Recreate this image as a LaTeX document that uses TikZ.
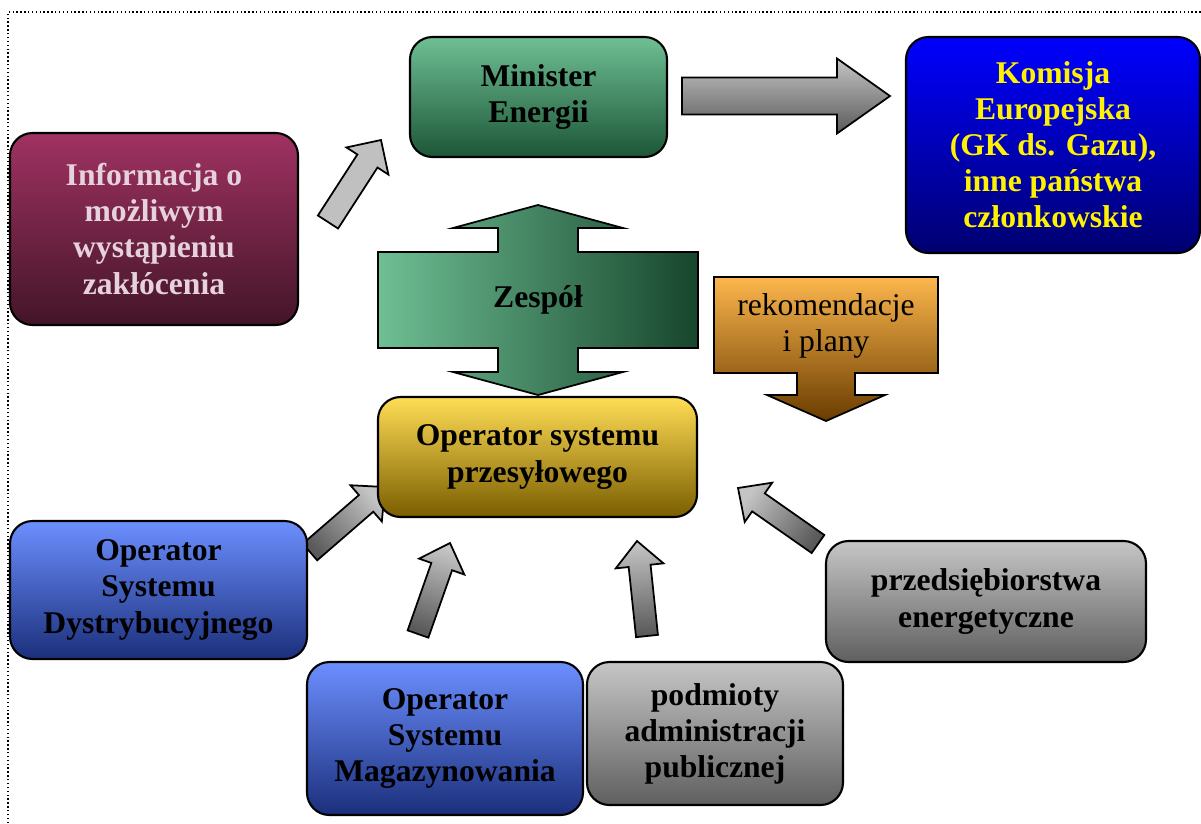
\documentclass[tikz,border=0pt]{standalone}
\usepackage{fontspec}
\setmainfont{Liberation Serif}
\usetikzlibrary{calc}

\definecolor{minlight}{HTML}{6FBF94}
\definecolor{mindark}{HTML}{1C5637}
\definecolor{kelight}{HTML}{0000FF}
\definecolor{kedark}{HTML}{000070}
\definecolor{infolight}{HTML}{A03262}
\definecolor{infodark}{HTML}{431528}
\definecolor{infotext}{HTML}{E6D2DC}
\definecolor{osplight}{HTML}{FFDD55}
\definecolor{ospdark}{HTML}{7A5E00}
\definecolor{oslight}{HTML}{6C8FFF}
\definecolor{osdark}{HTML}{1B2F7B}
\definecolor{greylight}{HTML}{C6C6C6}
\definecolor{greydark}{HTML}{5F5F5F}
\definecolor{zlight}{HTML}{6FBF94}
\definecolor{zmid}{HTML}{4A8C68}
\definecolor{zdark}{HTML}{17462D}
\definecolor{reklight}{HTML}{FCB64C}
\definecolor{rekdark}{HTML}{6A3C00}
\definecolor{arrowlight}{HTML}{C4C4C4}
\definecolor{arrowdark}{HTML}{5A5A5A}
\definecolor{arrowflat}{HTML}{C0C0C0}

\tikzset{
  txt/.style={font=\fontsize{18}{20.5}\selectfont\bfseries, align=center},
  box/.style={txt, draw, line width=1.2pt, rounded corners=0.45cm, inner sep=0pt},
  sz/.style 2 args={minimum width=#1*0.02cm, minimum height=#2*0.02cm},
  grey/.style={top color=greylight, bottom color=greydark},
  blue/.style={top color=oslight, bottom color=osdark},
  fat/.style={draw, line width=1pt, top color=arrowlight, bottom color=arrowdark},
}

% #1 style, #2 tail, #3 tip, #4 half shaft, #5 half head, #6 head length
\newcommand\fatarrow[6][]{%
  \coordinate (hb) at ($(#3)!#6!(#2)$);
  \path[fat,#1] ($(#2)!#4!90:(#3)$) -- ($(hb)!#4!-90:(#2)$) -- ($(hb)!#5!-90:(#2)$)
    -- (#3) -- ($(hb)!#5!90:(#2)$) -- ($(hb)!#4!90:(#2)$) -- ($(#2)!#4!-90:(#3)$) -- cycle;}

\begin{document}
\begin{tikzpicture}[x=0.02cm, y=-0.02cm]
  \useasboundingbox (0,0) rectangle (1201,823);
  \draw[line width=0.8pt, dash pattern=on 0.8pt off 1.4pt] (8,823) -- (8,12) -- (1201,12);

  % arrow ends
  \coordinate (info-out) at (328,222);
  \coordinate (min-in) at (381,140);
  \coordinate (min-out) at (682,96);
  \coordinate (ke-in) at (890,96);
  \coordinate (osd-out) at (310,552);
  \coordinate (osp-in1) at (385,487);
  \coordinate (osm-out) at (418,634);
  \coordinate (osp-in2) at (450,543);
  \coordinate (pod-out) at (647,636);
  \coordinate (osp-in3) at (637,541);
  \coordinate (prz-out) at (818,544);
  \coordinate (osp-in4) at (738,488);

  \fatarrow[top color=arrowflat, bottom color=arrowflat]{info-out}{min-in}{0.24cm}{0.5cm}{0.5cm}
  \fatarrow{min-out}{ke-in}{0.37cm}{0.75cm}{1.06cm}
  \fatarrow[shading angle=-49]{osd-out}{osp-in1}{0.22cm}{0.48cm}{0.5cm}
  \fatarrow[shading angle=-19]{osm-out}{osp-in2}{0.22cm}{0.48cm}{0.5cm}
  \fatarrow[shading angle=6]{pod-out}{osp-in3}{0.22cm}{0.48cm}{0.5cm}
  \fatarrow[shading angle=55]{prz-out}{osp-in4}{0.22cm}{0.48cm}{0.5cm}

  % Zespol
  \path[draw, line width=1pt, left color=zlight, middle color=zmid, right color=zdark]
    (538,205) -- (623,228) -- (578,228) -- (578,252) -- (698,252) -- (698,348)
    -- (578,348) -- (578,372) -- (623,372) -- (538,395) -- (453,372) -- (498,372)
    -- (498,348) -- (378,348) -- (378,252) -- (498,252) -- (498,228) -- (453,228) -- cycle;
  \node[txt] (zespol) at (538,300) {Zespół};

  % rekomendacje
  \path[draw, line width=1pt, top color=reklight, bottom color=rekdark]
    (714,277) -- (938,277) -- (938,373) -- (855,373) -- (855,395) -- (885,395)
    -- (826,421) -- (767,395) -- (797,395) -- (797,373) -- (714,373) -- cycle;
  \node[txt, font=\fontsize{18}{20.5}\selectfont] (rek) at (826,326) {rekomendacje\\i plany};

  \node[box, sz={257}{120}, top color=minlight, bottom color=mindark] (minister) at (538.5,97) {Minister\\Energii};
  \node[box, sz={294}{216}, top color=kelight, bottom color=kedark, text=yellow] (ke) at (1053,145)
    {Komisja\\Europejska\\(GK ds. Gazu),\\inne państwa\\członkowskie};
  \node[box, sz={288}{192}, top color=infolight, bottom color=infodark, text=infotext] (info) at (154,229)
    {Informacja o\\możliwym\\wystąpieniu\\zakłócenia};
  \node[box, sz={319}{120}, top color=osplight, bottom color=ospdark] (osp) at (537.5,457)
    {Operator systemu\\przesyłowego};
  \node[box, blue, sz={297}{138}] (osd) at (158.5,590) {Operator\\Systemu\\Dystrybucyjnego};
  \node[box, blue, sz={276}{153}] (osm) at (445,738.5) {Operator\\Systemu\\Magazynowania};
  \node[box, grey, sz={256}{143}] (pod) at (715,733.5) {podmioty\\administracji\\publicznej};
  \node[box, grey, sz={320}{121}] (prz) at (986,601.5) {przedsiębiorstwa\\energetyczne};
\end{tikzpicture}
\end{document}
